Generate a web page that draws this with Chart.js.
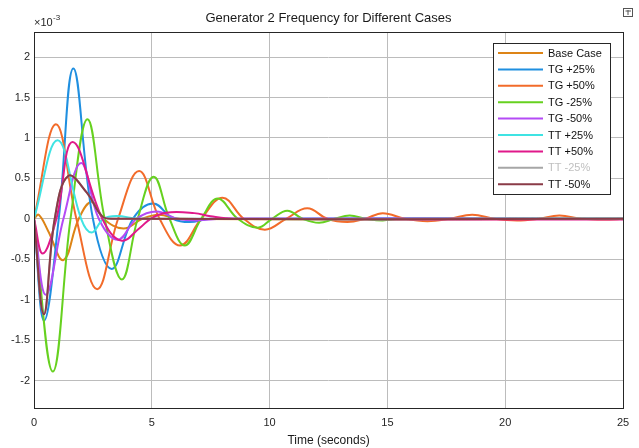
<!DOCTYPE html>
<html>
<head>
<meta charset="utf-8">
<script src="https://cdn.jsdelivr.net/npm/chart.js@4"></script>
<style>
  body { margin: 0; background: #fff; }
  #wrap { width: 639px; height: 448px; }
</style>
</head>
<body>
<div id="wrap"><canvas id="ch" width="639" height="448"></canvas></div>
<script>
// values are in units of 1e-3 (axis shows x10^-3)
const NAMES = ['Base Case','TG +25%','TG +50%','TG -25%','TG -50%','TT +25%','TT +50%','TT -25%','TT -50%'];
const COLORS = ['#DD8416','#1F8FE0','#F26B2A','#66D11F','#B44BF5','#3FE3E3','#E0198A','#A6A6A6','#8A3B47'];

const tBase = [0, 0.2, 0.6, 1.25, 1.9, 2.45, 2.95, 3.8, 4.6, 5.3, 6.2, 25];
const vBase = [0, 0.05, -0.15, -0.51, 0, 0.21, 0, -0.12, 0, 0.05, 0, 0];

const tTG25 = [0, 0.43, 1.05, 1.67, 2.5, 3.3, 4.2, 5.05, 5.9, 6.6, 7.5, 25];
const vTG25 = [0, -1.26, 0, 1.86, 0, -0.62, 0, 0.19, 0, -0.04, 0, 0];

const tTG50 = [0, 0.93, 1.8, 2.68, 3.57, 4.46, 5.33, 6.2, 7.1, 8.0, 8.9, 9.8, 10.7, 11.6, 12.45, 13.3, 14.05, 14.8, 15.75, 16.7, 17.65, 18.6, 19.55, 20.5, 21.4, 22.3, 23.25, 24.2, 25];
const vTG50 = [0, 1.17, 0, -0.87, 0, 0.59, 0, -0.33, 0, 0.26, 0, -0.135, 0, 0.13, 0, -0.04, 0, 0.07, 0, -0.03, 0, 0.05, 0, -0.02, 0, 0.04, 0, -0.01, 0];

const tTGm25 = [0, 0.8, 1.55, 2.27, 3.0, 3.73, 4.4, 5.08, 5.75, 6.4, 7.1, 7.8, 8.65, 9.5, 10.1, 10.75, 11.4, 12.1, 12.75, 13.4, 14.1, 14.8, 15.5, 25];
const vTGm25 = [0, -1.89, 0, 1.23, 0, -0.75, 0, 0.52, 0, -0.33, 0, 0.25, 0, -0.11, 0, 0.10, 0, -0.05, 0, 0.04, 0, -0.02, 0, 0];

const tTGm50 = [0, 0.5, 1.25, 2.0, 2.75, 3.55, 4.35, 5.2, 6.1, 6.9, 8, 25];
const vTGm50 = [0, -0.94, 0, 0.69, 0, -0.26, 0, 0.09, 0, -0.02, 0, 0];

const tTT25 = [0, 1.0, 2.0, 2.45, 2.95, 3.5, 4.5, 25];
const vTT25 = [0, 0.97, 0, -0.17, 0, 0.035, 0, 0];

const tTT50 = [0, 0.37, 0.95, 1.64, 2.9, 3.7, 4.5, 4.95, 5.6, 6.8, 7.5, 8.5, 25];
const vTT50 = [0, -0.43, 0, 0.95, 0, -0.27, -0.11, 0, 0.075, 0.07, 0.03, 0, -0.01];

const tTTm25 = [0, 0.42, 0.88, 1.45, 2.25, 2.9, 3.4, 25];
const vTTm25 = [0, -1.18, 0, 0.53, 0.32, 0.03, 0, 0];

const tTTm50 = [0, 0.42, 0.88, 1.45, 2.25, 2.9, 3.4, 25];
const vTTm50 = [0, -1.18, 0, 0.53, 0.32, 0.03, 0, 0];

const X_TICKS = [0, 5, 10, 15, 20, 25];
const Y_TICKS = [-2, -1.5, -1, -0.5, 0, 0.5, 1, 1.5, 2];

const SERIES = [[tBase,vBase],[tTG25,vTG25],[tTG50,vTG50],[tTGm25,vTGm25],[tTGm50,vTGm50],[tTT25,vTT25],[tTT50,vTT50],[tTTm25,vTTm25],[tTTm50,vTTm50]];

const FONT = "'Liberation Sans', Arial, sans-serif";

const decor = {
  id: 'decor',
  afterDraw(c) {
    const { ctx, chartArea: a } = c;
    ctx.save();
    // axes box
    ctx.strokeStyle = '#262626'; ctx.lineWidth = 1;
    ctx.strokeRect(a.left + 0.5, a.top + 0.5, a.right - a.left, a.bottom - a.top);
    // title
    ctx.fillStyle = '#1a1a1a';
    ctx.font = '13px ' + FONT;
    ctx.textAlign = 'center'; ctx.textBaseline = 'middle';
    ctx.fillText('Generator 2 Frequency for Different Cases', (a.left + a.right) / 2, 18);
    // exponent
    ctx.textAlign = 'left'; ctx.fillStyle = '#262626';
    ctx.font = '11px ' + FONT;
    ctx.fillText('\u00d710', 34, 23);
    ctx.font = '8px ' + FONT;
    ctx.fillText('-3', 53, 18);
    // figure icon
    ctx.strokeStyle = '#555'; ctx.strokeRect(623.5, 8.5, 9, 8);
    ctx.beginPath(); ctx.moveTo(628, 10); ctx.lineTo(628, 15); ctx.moveTo(625.5, 11); ctx.lineTo(631, 11); ctx.stroke();
    // legend
    const lx = 493, ly = 43, lw = 117, lh = 151;
    ctx.fillStyle = '#fff'; ctx.fillRect(lx, ly, lw, lh);
    ctx.strokeStyle = '#262626'; ctx.strokeRect(lx + 0.5, ly + 0.5, lw, lh);
    ctx.font = '11px ' + FONT; ctx.textBaseline = 'middle';
    NAMES.forEach((n, i) => {
      const y = 53 + i * 16.4;
      ctx.strokeStyle = COLORS[i]; ctx.lineWidth = 2;
      ctx.beginPath(); ctx.moveTo(498, y); ctx.lineTo(543, y); ctx.stroke();
      ctx.fillStyle = n === 'TT -25%' ? '#c0c0c0' : '#111';
      ctx.fillText(n, 548, y + 0.5);
    });
    ctx.restore();
  }
};

new Chart(document.getElementById('ch'), {
  type: 'line',
  data: {
    datasets: SERIES.map(([t, v], i) => ({
      label: NAMES[i],
      data: t.map((x, k) => ({ x, y: v[k] })),
      borderColor: COLORS[i],
      borderWidth: 2,
      pointRadius: 0,
      fill: false,
      tension: 0.4,
      order: SERIES.length - i,
    })),
  },
  options: {
    responsive: false, animation: false, devicePixelRatio: 1,
    layout: { padding: { top: 32, right: 16, left: 0, bottom: 0 } },
    plugins: { legend: { display: false }, tooltip: { enabled: false }, title: { display: false } },
    scales: {
      x: {
        type: 'linear', min: 0, max: 25,
        afterBuildTicks: s => { s.ticks = X_TICKS.map(value => ({ value })); },
        afterFit: s => { s.height = 40; },
        grid: { color: '#bcbcbc', drawTicks: false },
        border: { display: false },
        ticks: { font: { size: 11, family: FONT }, color: '#262626', padding: 8 },
        title: { display: true, text: 'Time (seconds)', font: { size: 12, family: FONT }, color: '#1a1a1a', padding: { top: 0, bottom: 0 } },
      },
      y: {
        min: -2.34, max: 2.31,
        afterBuildTicks: s => { s.ticks = Y_TICKS.map(value => ({ value })); },
        afterFit: s => { s.width = 34; },
        grid: { color: '#bcbcbc', drawTicks: false },
        border: { display: false },
        ticks: { font: { size: 11, family: FONT }, color: '#262626', padding: 4, callback: v => String(v) },
      },
    },
  },
  plugins: [decor],
});
</script>
</body>
</html>
